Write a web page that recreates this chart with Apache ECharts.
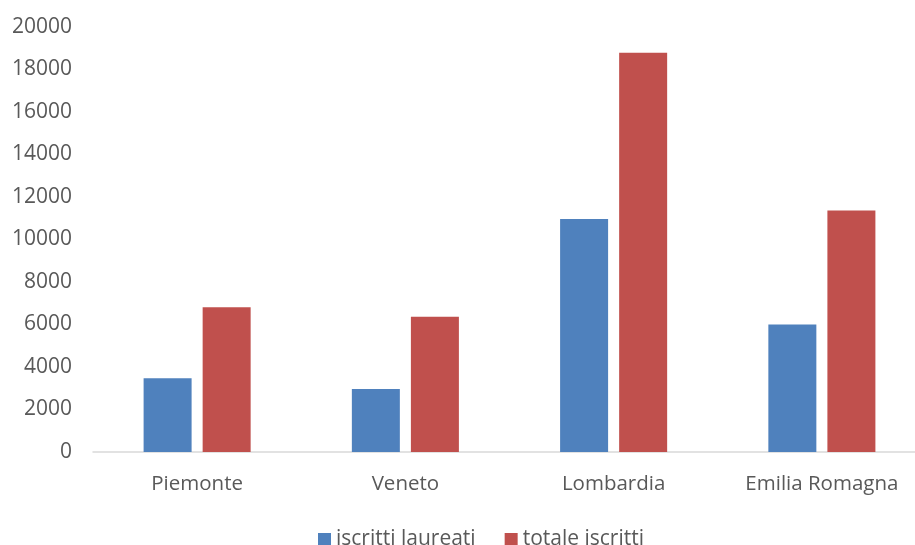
<!DOCTYPE html>
<html>
<head>
<meta charset="utf-8">
<script src="https://cdn.jsdelivr.net/npm/echarts@6/dist/echarts.min.js"></script>
<style>
html,body{margin:0;padding:0;background:#fff;overflow:hidden;width:915px;height:545px;}
#chart{width:926px;height:545px;}
</style>
</head>
<body>
<div id="chart"></div>
<script>
const categories = ['Piemonte', 'Veneto', 'Lombardia', 'Emilia Romagna'];
const iscrittiLaureati = [3470, 2960, 10960, 6000];
const totaleIscritti = [6810, 6370, 18790, 11370];
const seriesNames = ['iscritti laureati', 'totale iscritti'];

const chart = echarts.init(document.getElementById('chart'), null, {renderer: 'canvas'});
const font = '"Open Sans", "Liberation Sans", sans-serif';
chart.setOption({
  animation: false,
  backgroundColor: '#ffffff',
  grid: {left: 93, right: 0, top: 27, bottom: 93, containLabel: false},
  legend: {
    data: seriesNames,
    left: 313,
    top: 524,
    itemWidth: 13,
    itemHeight: 13,
    itemGap: 29,
    icon: 'rect',
    textStyle: {fontFamily: font, fontSize: 21, color: '#595959'}
  },
  xAxis: {
    type: 'category',
    data: categories,
    axisLine: {show: true, lineStyle: {color: '#D9D9D9', width: 1.5}},
    axisTick: {show: false},
    axisLabel: {fontFamily: font, fontSize: 20.5, color: '#595959', margin: 22}
  },
  yAxis: {
    type: 'value',
    min: 0,
    max: 20000,
    interval: 2000,
    axisLine: {show: false},
    axisTick: {show: false},
    splitLine: {show: false},
    axisLabel: {fontFamily: font, fontSize: 21, color: '#595959', margin: 21,
      formatter: function (v) { return String(v); }}
  },
  series: [
    {
      name: seriesNames[0],
      type: 'bar',
      data: iscrittiLaureati,
      barWidth: 48,
      barGap: '23%',
      itemStyle: {color: '#4F81BD'}
    },
    {
      name: seriesNames[1],
      type: 'bar',
      data: totaleIscritti,
      barWidth: 48,
      barGap: '23%',
      itemStyle: {color: '#C0504D'}
    }
  ]
});
</script>
</body>
</html>
